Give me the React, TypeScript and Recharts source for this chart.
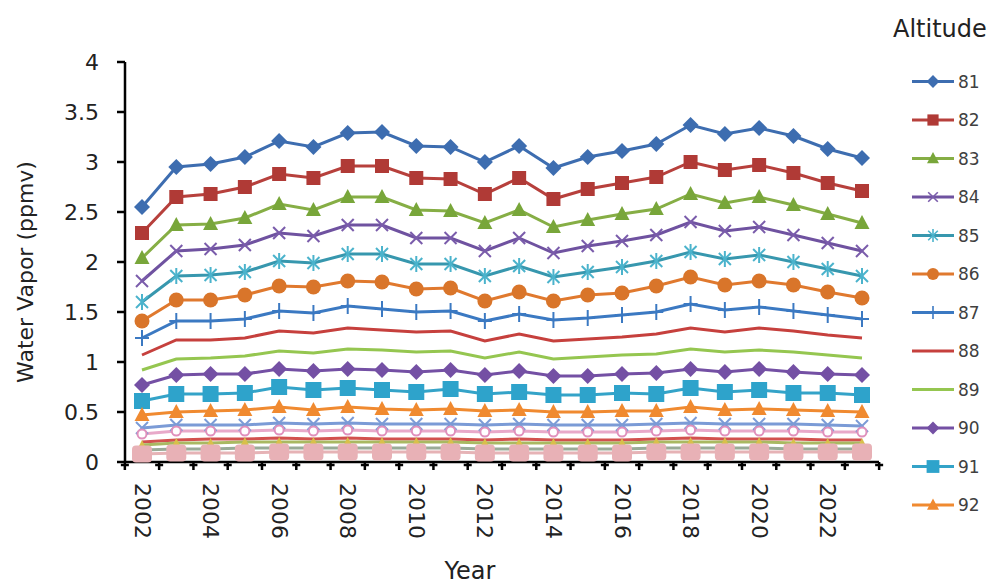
import React from "react";
import { LineChart, Line, XAxis, YAxis } from "recharts";

const years = [
  "2002", "2003", "2004", "2005", "2006", "2007", "2008", "2009", "2010", "2011", "2012",
  "2013", "2014", "2015", "2016", "2017", "2018", "2019", "2020", "2021", "2022", "2023",
];

const s81 = [2.55, 2.95, 2.98, 3.05, 3.21, 3.15, 3.29, 3.3, 3.16, 3.15, 3.0, 3.16, 2.94, 3.05, 3.11, 3.18, 3.37, 3.28, 3.34, 3.26, 3.13, 3.04];
const s82 = [2.29, 2.65, 2.68, 2.75, 2.88, 2.84, 2.96, 2.96, 2.84, 2.83, 2.68, 2.84, 2.63, 2.73, 2.79, 2.85, 3.0, 2.92, 2.97, 2.89, 2.79, 2.71];
const s83 = [2.04, 2.37, 2.38, 2.44, 2.58, 2.52, 2.65, 2.65, 2.52, 2.51, 2.39, 2.52, 2.35, 2.42, 2.48, 2.53, 2.68, 2.59, 2.65, 2.57, 2.48, 2.39];
const s84 = [1.81, 2.11, 2.13, 2.17, 2.29, 2.26, 2.37, 2.37, 2.24, 2.24, 2.11, 2.24, 2.09, 2.16, 2.21, 2.27, 2.4, 2.31, 2.35, 2.27, 2.19, 2.11];
const s85 = [1.6, 1.86, 1.87, 1.9, 2.01, 1.99, 2.08, 2.08, 1.98, 1.98, 1.86, 1.96, 1.85, 1.9, 1.95, 2.01, 2.1, 2.03, 2.07, 2.0, 1.93, 1.86];
const s86 = [1.41, 1.62, 1.62, 1.67, 1.76, 1.75, 1.81, 1.8, 1.73, 1.74, 1.61, 1.7, 1.61, 1.67, 1.69, 1.76, 1.85, 1.77, 1.81, 1.77, 1.7, 1.64];
const s87 = [1.24, 1.41, 1.41, 1.43, 1.51, 1.49, 1.56, 1.53, 1.5, 1.51, 1.41, 1.48, 1.42, 1.44, 1.47, 1.5, 1.58, 1.52, 1.55, 1.51, 1.47, 1.43];
const s88 = [1.07, 1.22, 1.22, 1.24, 1.31, 1.29, 1.34, 1.32, 1.3, 1.31, 1.21, 1.28, 1.21, 1.23, 1.25, 1.28, 1.34, 1.3, 1.34, 1.31, 1.27, 1.24];
const s89 = [0.92, 1.03, 1.04, 1.06, 1.11, 1.09, 1.13, 1.12, 1.1, 1.11, 1.04, 1.1, 1.03, 1.05, 1.07, 1.08, 1.13, 1.1, 1.12, 1.1, 1.07, 1.04];
const s90 = [0.77, 0.87, 0.88, 0.88, 0.93, 0.91, 0.93, 0.92, 0.9, 0.92, 0.87, 0.91, 0.86, 0.86, 0.88, 0.89, 0.93, 0.9, 0.93, 0.9, 0.88, 0.87];
const s91 = [0.61, 0.68, 0.68, 0.69, 0.75, 0.72, 0.74, 0.72, 0.7, 0.73, 0.68, 0.7, 0.67, 0.67, 0.69, 0.68, 0.74, 0.7, 0.72, 0.69, 0.69, 0.67];
const s92 = [0.47, 0.5, 0.51, 0.52, 0.55, 0.52, 0.55, 0.53, 0.52, 0.53, 0.51, 0.52, 0.5, 0.5, 0.51, 0.51, 0.55, 0.52, 0.53, 0.52, 0.51, 0.5];
const s93 = [0.34, 0.37, 0.37, 0.37, 0.39, 0.38, 0.39, 0.38, 0.38, 0.38, 0.37, 0.38, 0.37, 0.37, 0.37, 0.38, 0.39, 0.38, 0.38, 0.38, 0.37, 0.36];
const s94 = [0.28, 0.31, 0.31, 0.31, 0.32, 0.31, 0.32, 0.31, 0.31, 0.31, 0.3, 0.31, 0.3, 0.3, 0.3, 0.31, 0.32, 0.31, 0.31, 0.31, 0.3, 0.3];
const s95 = [0.2, 0.22, 0.23, 0.23, 0.24, 0.23, 0.24, 0.23, 0.23, 0.23, 0.22, 0.23, 0.22, 0.22, 0.22, 0.23, 0.24, 0.23, 0.23, 0.23, 0.22, 0.22];
const s96 = [0.17, 0.19, 0.19, 0.2, 0.2, 0.2, 0.2, 0.2, 0.2, 0.2, 0.19, 0.19, 0.19, 0.19, 0.19, 0.2, 0.2, 0.2, 0.2, 0.19, 0.19, 0.19];
const s97 = [0.12, 0.13, 0.13, 0.14, 0.14, 0.14, 0.14, 0.14, 0.14, 0.14, 0.13, 0.13, 0.13, 0.13, 0.13, 0.14, 0.14, 0.14, 0.14, 0.13, 0.13, 0.13];
const s98 = [0.08, 0.09, 0.09, 0.09, 0.1, 0.1, 0.1, 0.1, 0.1, 0.1, 0.09, 0.09, 0.09, 0.09, 0.09, 0.1, 0.1, 0.1, 0.1, 0.1, 0.1, 0.1];

const yTicks = [0, 0.5, 1, 1.5, 2, 2.5, 3, 3.5, 4];

// altitude, values, line colour, marker shape, marker colour, in legend?
const series = [
  { name: "81", values: s81, color: "#3d6db0", marker: "diamond", mcolor: "#3d6db0", legend: true },
  { name: "82", values: s82, color: "#b7403c", marker: "square", mcolor: "#b03a36", legend: true },
  { name: "83", values: s83, color: "#86ae45", marker: "triangle", mcolor: "#78a63a", legend: true },
  { name: "84", values: s84, color: "#6f52a0", marker: "x", mcolor: "#7a5cab", legend: true },
  { name: "85", values: s85, color: "#3797ae", marker: "star", mcolor: "#4bb3cc", legend: true },
  { name: "86", values: s86, color: "#e0792e", marker: "circle", mcolor: "#d9752a", legend: true },
  { name: "87", values: s87, color: "#3b79c2", marker: "plus", mcolor: "#3b79c2", legend: true },
  { name: "88", values: s88, color: "#c6403d", marker: "none", mcolor: "#c6403d", legend: true },
  { name: "89", values: s89, color: "#95c650", marker: "none", mcolor: "#95c650", legend: true },
  { name: "90", values: s90, color: "#7450a4", marker: "diamond", mcolor: "#7450a4", legend: true },
  { name: "91", values: s91, color: "#34a3c8", marker: "bigsquare", mcolor: "#2ea3cb", legend: true },
  { name: "92", values: s92, color: "#f08a30", marker: "triangle", mcolor: "#f08a30", legend: true },
  { name: "93", values: s93, color: "#7b9bd6", marker: "x", mcolor: "#7b9bd6", legend: false },
  { name: "94", values: s94, color: "#e8a9c9", marker: "ring", mcolor: "#e090bc", legend: false },
  { name: "95", values: s95, color: "#d2514e", marker: "none", mcolor: "#d2514e", legend: false },
  { name: "96", values: s96, color: "#a9b962", marker: "smalltri", mcolor: "#d8c04a", legend: false },
  { name: "97", values: s97, color: "#9aab98", marker: "none", mcolor: "#9aab98", legend: false },
  { name: "98", values: s98, color: "#e6b3b6", marker: "blob", mcolor: "#e8b1b6", legend: false },
];

const data = years.map((year, i) => {
  const row: any = { year };
  series.forEach((s) => {
    row["a" + s.name] = s.values[i];
  });
  return row;
});

const FONT = "'DejaVu Sans', sans-serif";
const PLOT_LEFT = 125;
const PLOT_RIGHT = 879;
const PAD = 17;
const STEP = (PLOT_RIGHT - PLOT_LEFT - 2 * PAD) / (years.length - 1);

function Marker({ shape, cx, cy, color }: any) {
  if (cx == null || cy == null) return null;
  switch (shape) {
    case "diamond":
      return <polygon points={`${cx},${cy - 8} ${cx + 8},${cy} ${cx},${cy + 8} ${cx - 8},${cy}`} fill={color} />;
    case "square":
      return <rect x={cx - 7} y={cy - 7} width={14} height={14} fill={color} />;
    case "bigsquare":
      return <rect x={cx - 8} y={cy - 8} width={16} height={16} fill={color} />;
    case "triangle":
      return <polygon points={`${cx},${cy - 8} ${cx + 7.5},${cy + 6} ${cx - 7.5},${cy + 6}`} fill={color} />;
    case "smalltri":
      return <polygon points={`${cx},${cy - 5} ${cx + 4.5},${cy + 4} ${cx - 4.5},${cy + 4}`} fill={color} />;
    case "x":
      return (
        <g stroke={color} strokeWidth={2}>
          <line x1={cx - 6} y1={cy - 6} x2={cx + 6} y2={cy + 6} />
          <line x1={cx - 6} y1={cy + 6} x2={cx + 6} y2={cy - 6} />
        </g>
      );
    case "star":
      return (
        <g stroke={color} strokeWidth={2}>
          <line x1={cx - 6} y1={cy - 6} x2={cx + 6} y2={cy + 6} />
          <line x1={cx - 6} y1={cy + 6} x2={cx + 6} y2={cy - 6} />
          <line x1={cx} y1={cy - 8} x2={cx} y2={cy + 8} />
        </g>
      );
    case "plus":
      return (
        <g stroke={color} strokeWidth={2}>
          <line x1={cx} y1={cy - 8} x2={cx} y2={cy + 8} />
          <line x1={cx - 7} y1={cy} x2={cx + 7} y2={cy} />
        </g>
      );
    case "circle":
      return <circle cx={cx} cy={cy} r={7.5} fill={color} />;
    case "ring":
      return <circle cx={cx} cy={cy} r={4.5} fill="#fff" stroke={color} strokeWidth={2} />;
    case "blob":
      return <rect x={cx - 10} y={cy - 8.5} width={20} height={17} rx={4} fill={color} />;
    default:
      return null;
  }
}

function YearTick({ x, y, index, payload }: any) {
  const half = STEP / 2;
  const isLast = index === years.length - 1;
  const tickMark = (tx: number, k: string) => (
    <g key={k} stroke="#000" strokeWidth={2.5}>
      <line x1={tx} y1={y} x2={tx} y2={y + 8} />
      <line x1={tx - 4} y1={y + 3} x2={tx + 4} y2={y + 3} />
    </g>
  );
  return (
    <g>
      {tickMark(x - half, "a")}
      {isLast && tickMark(x + half, "b")}
      {index % 2 === 0 && (
        <text
          x={x}
          y={y + 21}
          transform={`rotate(90, ${x}, ${y + 21})`}
          textAnchor="start"
          dominantBaseline="central"
          fontSize={22}
          fontFamily={FONT}
          fill="#222"
        >
          {payload.value}
        </text>
      )}
    </g>
  );
}

function LegendOverlay() {
  const entries = series.filter((s) => s.legend);
  return (
    <svg width={1002} height={587} style={{ position: "absolute", left: 0, top: 0, pointerEvents: "none" }}>
      <text x={893} y={37} fontSize={24} fontFamily={FONT} fill="#222">
        Altitude
      </text>
      {entries.map((s, i) => {
        const cy = 81.5 + i * 38.5;
        return (
          <g key={s.name}>
            <line x1={912} y1={cy} x2={954} y2={cy} stroke={s.color} strokeWidth={3} />
            <g transform={`translate(${933}, ${cy}) scale(0.8) translate(${-933}, ${-cy})`}>
              <Marker shape={s.marker} cx={933} cy={cy} color={s.mcolor} />
            </g>
            <text x={958} y={cy + 6} fontSize={17} fontFamily={FONT} fill="#404040">
              {s.name}
            </text>
          </g>
        );
      })}
    </svg>
  );
}

export default function App() {
  return (
    <div style={{ position: "absolute", left: 0, top: 0, width: 1002, height: 587, background: "#fff" }}>
      <LineChart
        width={1002}
        height={587}
        data={data}
        margin={{ top: 62, right: 1002 - PLOT_RIGHT, bottom: 0, left: 0 }}
        style={{ fontFamily: FONT }}
      >
        <XAxis
          dataKey="year"
          interval={0}
          height={125}
          padding={{ left: PAD, right: PAD }}
          tickLine={false}
          tickSize={0}
          tickMargin={0}
          axisLine={{ stroke: "#000", strokeWidth: 2.5 }}
          tick={<YearTick />}
          label={{ value: "Year", position: "insideBottom", offset: 8, dx: -32, fontSize: 24, fill: "#222" }}
        />
        <YAxis
          width={PLOT_LEFT}
          domain={[0, 4]}
          ticks={yTicks}
          interval={0}
          tickSize={8}
          tickMargin={18}
          axisLine={{ stroke: "#000", strokeWidth: 2.5 }}
          tickLine={{ stroke: "#000", strokeWidth: 2.5 }}
          tick={{ fontSize: 22, fill: "#222" }}
          label={{ value: "Water Vapor (ppmv)", angle: -90, position: "center", dx: -37, dy: 10, fontSize: 22, fill: "#222" }}
        />
        {series.map((s) => (
          <Line
            key={s.name}
            dataKey={"a" + s.name}
            name={s.name}
            type="linear"
            stroke={s.color}
            strokeWidth={3}
            isAnimationActive={false}
            dot={(p: any) => <Marker key={`${s.name}-${p.index}`} shape={s.marker} cx={p.cx} cy={p.cy} color={s.mcolor} />}
            activeDot={false}
          />
        ))}
      </LineChart>
      <LegendOverlay />
    </div>
  );
}
